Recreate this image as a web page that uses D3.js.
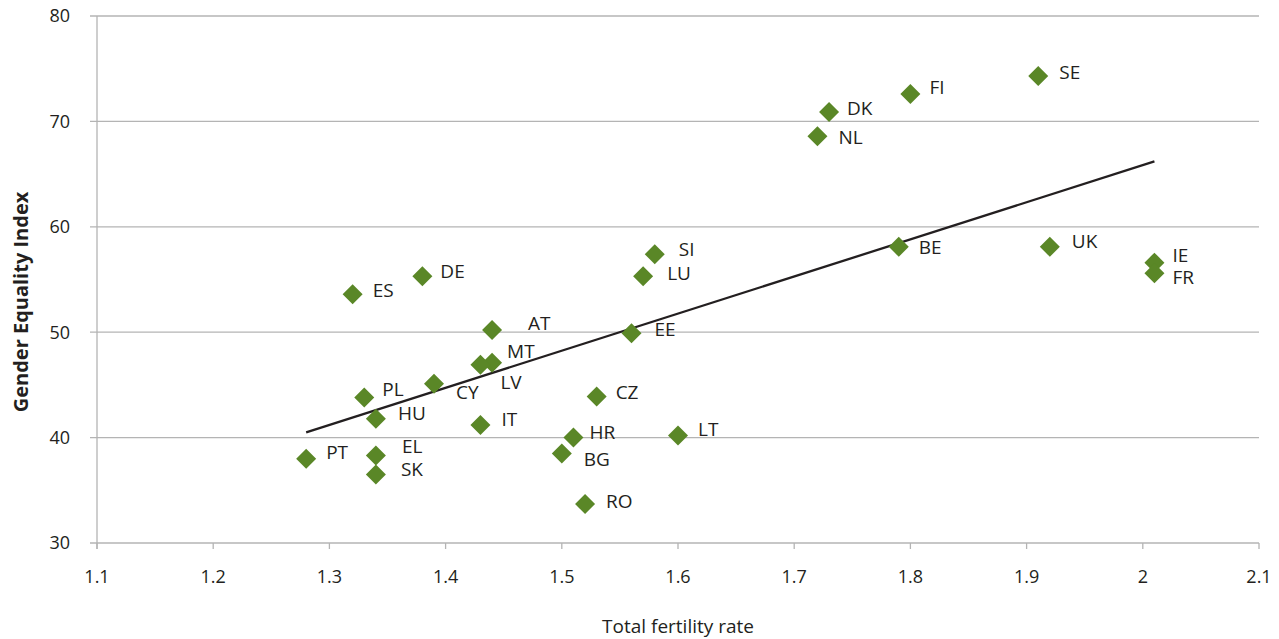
<!DOCTYPE html>
<html>
<head>
<meta charset="utf-8">
<script src="https://cdn.jsdelivr.net/npm/d3@7"></script>
<style>
  html, body { margin: 0; padding: 0; background: #ffffff; }
  svg { display: block; }
  text { font-family: "Open Sans", "Noto Sans", sans-serif; fill: #231f20; }
</style>
</head>
<body>
<svg id="chart" width="1279" height="639"></svg>
<script>
// ---- data ----
const countries = ["SE","FI","DK","NL","BE","UK","IE","FR","SI","LU","EE","AT","MT","LV","CY","PL","HU","IT","CZ","HR","BG","RO","LT","PT","EL","SK","ES","DE"];
const fertility = [1.91,1.80,1.73,1.72,1.79,1.92,2.01,2.01,1.58,1.57,1.56,1.44,1.44,1.43,1.39,1.33,1.34,1.43,1.53,1.51,1.50,1.52,1.60,1.28,1.34,1.34,1.32,1.38];
const equality  = [74.3,72.6,70.9,68.6,58.1,58.1,56.6,55.6,57.4,55.3,49.9,50.2,47.1,46.9,45.1,43.8,41.8,41.2,43.9,40.0,38.5,33.7,40.2,38.0,38.3,36.5,53.6,55.3];
const trendX = [1.28, 2.01];
const trendY = [40.5, 66.2];
const xTicks = [1.1,1.2,1.3,1.4,1.5,1.6,1.7,1.8,1.9,2,2.1];
const yTicks = [30,40,50,60,70,80];
const xTitle = "Total fertility rate";
const yTitle = "Gender Equality Index";

// label nudges (layout only)
const nudge = {
  SE:[21,-4], FI:[19,-7], DK:[18,-4], NL:[21,1], BE:[20,1], UK:[22,-5], IE:[18,-7], FR:[18,4],
  SI:[24,-5], LU:[24,-3], EE:[23,-4], AT:[36,-7], MT:[15,-11], LV:[20,17], CY:[22,9], PL:[18,-8],
  HU:[22,-5], IT:[21,-6], CZ:[19,-4], HR:[16,-5], BG:[22,6], RO:[21,-3], LT:[20,-6], PT:[20,-6],
  EL:[26,-9], SK:[25,-5], ES:[20,-4], DE:[18,-5]
};

const svg = d3.select("#chart");
const mLeft = 97, mRight = 1259, mTop = 16, mBottom = 543;

const x = d3.scaleLinear().domain([1.1, 2.1]).range([mLeft, mRight]);
const y = d3.scaleLinear().domain([30, 80]).range([mBottom, mTop]);

const grid = "#b4b4b4";

// horizontal gridlines
svg.append("g").selectAll("line").data(yTicks).join("line")
  .attr("x1", mLeft - 7).attr("x2", mRight)
  .attr("y1", d => y(d)).attr("y2", d => y(d))
  .attr("stroke", grid).attr("stroke-width", 1.3);

// y axis line
svg.append("line").attr("x1", mLeft).attr("x2", mLeft)
  .attr("y1", mTop).attr("y2", mBottom + 6)
  .attr("stroke", grid).attr("stroke-width", 1.3);

// x ticks
svg.append("g").selectAll("line").data(xTicks).join("line")
  .attr("x1", d => x(d)).attr("x2", d => x(d))
  .attr("y1", mBottom).attr("y2", mBottom + 6)
  .attr("stroke", grid).attr("stroke-width", 1.3);

// y tick labels
svg.append("g").selectAll("text").data(yTicks).join("text")
  .attr("x", 70).attr("y", d => y(d))
  .attr("dy", "0.35em")
  .attr("text-anchor", "end")
  .attr("font-size", 18)
  .text(d => d);

// x tick labels
svg.append("g").selectAll("text").data(xTicks).join("text")
  .attr("x", d => x(d)).attr("y", 583)
  .attr("text-anchor", "middle")
  .attr("font-size", 18)
  .text(d => d);

// axis titles
svg.append("text").attr("x", 678).attr("y", 633)
  .attr("text-anchor", "middle").attr("font-size", 19)
  .text(xTitle);

svg.append("text")
  .attr("transform", "translate(28,302) rotate(-90)")
  .attr("text-anchor", "middle").attr("font-size", 20).attr("font-weight", "bold")
  .text(yTitle);

// trend line
const trend = trendX.map((v, i) => [v, trendY[i]]);
svg.append("path")
  .attr("d", d3.line().x(d => x(d[0])).y(d => y(d[1]))(trend))
  .attr("fill", "none").attr("stroke", "#231f20").attr("stroke-width", 2.3);

// points
const pts = countries.map((c, i) => ({c, fx: fertility[i], ge: equality[i]}));
const h = 10;
svg.append("g").selectAll("path").data(pts).join("path")
  .attr("transform", d => `translate(${x(d.fx)},${y(d.ge)})`)
  .attr("d", `M0,${-h}L${h},0L0,${h}L${-h},0Z`)
  .attr("fill", "#5a8727");

// labels
svg.append("g").selectAll("text").data(pts).join("text")
  .attr("x", d => x(d.fx) + nudge[d.c][0])
  .attr("y", d => y(d.ge) + nudge[d.c][1])
  .attr("dy", "0.35em")
  .attr("font-size", 19)
  .text(d => d.c);
</script>
</body>
</html>
